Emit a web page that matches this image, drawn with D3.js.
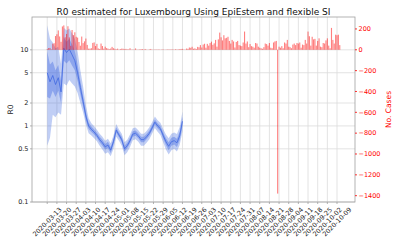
<!DOCTYPE html>
<html>
<head>
<meta charset="utf-8">
<script src="https://cdn.jsdelivr.net/npm/d3@7"></script>
<style>
  body { margin: 0; background: #fff; }
  svg { display: block; font-family: "DejaVu Sans", sans-serif; }
</style>
</head>
<body>
<svg id="chart"></svg>
<script>
// daily new cases, one value per day from casesStart
const casesStart = "2020-03-13";
const dailyCases = [
    8, 17, 18, 4, 59, 63, 132, 149, 186, 128, 77, 224, 234, 120, 152, 226, 119, 38, 190,
    141, 168, 125, 117, 75, 39, 127, 64, 81, 108, 47, 11, 11, 15, 66, 71, 36, 57, 13, 8, 60, 36, 11, 30, 16, 12, 6, 12, 28, 15,
    10, 5, 11, 2, 7, 11, 10, 6, 9, 5, 4, 15, 2, 3, 3, 13, 2, 2, 4, 6, 7, 3, 8, 2, 1, 4, 8, 2, 2, 3, 3,
    2, 4, 1, 3, 5, 1, 2, 4, 3, 4, 3, 5, 2, 6, 3, 4, 6, 8, 9, 3, 2, 12, 9, 22, 19, 29, 10, 14, 8, 28,
    24, 45, 22, 50, 58, 20, 57, 40, 65, 78, 48, 62, 95, 30, 100, 165, 120, 90, 140, 110, 115, 125, 85, 60, 95, 80, 22, 75, 85, 45, 40,
    35, 70, 175, 60, 80, 25, 55, 35, 30, 20, 65, 60, 30, 20, 15, 10, 25, 60, 55, 40, 65, 20, 15, 70, 80, 85, -1380, 30, 20, 35, 15,
    70, 60, 95, 30, 25, 15, 50, 60, 45, 65, 60, 70, 20, 50, 45, 95, 60, 175, 130, 40, 125, 100, 105, 40, 85, 110, 30, 25, 65, 60,
    90, 110, 40, 15, 210, 95, 60, 145, 140, 145, 45
];

// R0 estimates, one value every r0Step days from r0Start
const r0Start = "2020-03-13";
const r0Step = 2;
const r0Median = [5.0, 3.8, 4.6, 3.5, 4.3, 2.8, 10.5, 9.2, 10.2, 8.6, 7.2, 5.0, 3.2, 2.1, 1.35, 1.0, 0.9, 0.83, 0.75, 0.66,
    0.6, 0.53, 0.56, 0.48, 0.62, 0.88, 0.76, 0.66, 0.5, 0.55, 0.64, 0.78, 0.8, 0.74, 0.66, 0.66, 0.72, 0.8, 0.94, 1.12,
    1.0, 0.92, 0.75, 0.62, 0.54, 0.62, 0.64, 0.6, 0.74, 1.15];
const r0Lo50 = [2.4, 2.3, 2.9, 2.4, 2.9, 2.0, 7.2, 6.6, 7.3, 6.2, 5.4, 3.9, 2.6, 1.8, 1.2, 0.91, 0.83, 0.77, 0.7, 0.61,
    0.55, 0.49, 0.51, 0.44, 0.57, 0.81, 0.71, 0.61, 0.46, 0.51, 0.59, 0.72, 0.74, 0.69, 0.61, 0.61, 0.67, 0.74, 0.87, 1.04,
    0.93, 0.85, 0.69, 0.56, 0.48, 0.55, 0.57, 0.53, 0.65, 1.0];
const r0Hi50 = [9.5, 6.4, 7.0, 5.4, 6.3, 3.9, 14.5, 12.8, 14.0, 11.8, 9.6, 6.4, 3.9, 2.5, 1.52, 1.1, 0.98, 0.9, 0.81, 0.72,
    0.66, 0.58, 0.62, 0.53, 0.68, 0.96, 0.82, 0.72, 0.55, 0.6, 0.7, 0.85, 0.87, 0.8, 0.72, 0.72, 0.78, 0.87, 1.02, 1.21,
    1.08, 1.0, 0.82, 0.69, 0.61, 0.7, 0.72, 0.68, 0.84, 1.32];
const r0Lo95 = [0.55, 0.7, 1.4, 1.3, 1.5, 1.4, 3.6, 3.4, 4.0, 3.6, 3.3, 2.7, 2.0, 1.5, 1.05, 0.8, 0.75, 0.69, 0.63, 0.55,
    0.49, 0.43, 0.45, 0.4, 0.5, 0.72, 0.64, 0.55, 0.41, 0.45, 0.53, 0.65, 0.67, 0.62, 0.55, 0.55, 0.6, 0.67, 0.79, 0.94,
    0.84, 0.76, 0.61, 0.49, 0.42, 0.48, 0.5, 0.46, 0.56, 0.85];
const r0Hi95 = [21, 14, 12.5, 10.5, 11, 6.5, 19.5, 18, 19, 16.5, 14, 9.5, 5.4, 3.3, 1.85, 1.26, 1.08, 0.99, 0.89, 0.79,
    0.72, 0.64, 0.68, 0.59, 0.75, 1.06, 0.9, 0.79, 0.61, 0.66, 0.77, 0.93, 0.95, 0.88, 0.79, 0.79, 0.86, 0.96, 1.12, 1.33,
    1.19, 1.1, 0.91, 0.77, 0.69, 0.79, 0.82, 0.78, 0.97, 1.55];

const xTickLabels = [
    "2020-03-13", "2020-03-20", "2020-03-27", "2020-04-03", "2020-04-10", "2020-04-17", "2020-04-24",
    "2020-05-01", "2020-05-08", "2020-05-15", "2020-05-22", "2020-05-29", "2020-06-05", "2020-06-12",
    "2020-06-19", "2020-06-26", "2020-07-03", "2020-07-10", "2020-07-17", "2020-07-24", "2020-07-31",
    "2020-08-07", "2020-08-14", "2020-08-21", "2020-08-28", "2020-09-04", "2020-09-11", "2020-09-18",
    "2020-09-25", "2020-10-02", "2020-10-09"
];
const r0Ticks = [0.1, 0.5, 1, 2, 5, 10];
const r0TickLabels = ["0.1", "0.5", "1", "2", "5", "10"];
const caseTicks = [200, 0, -200, -400, -600, -800, -1000, -1200, -1400];

/** ---------------------------------------------------------------- */

const width = 400, height = 250;
const plot = {left: 32, right: 355, top: 17, bottom: 202};
const parseDate = d3.timeParse("%Y-%m-%d");
const tickFont = 6.5;

const svg = d3.select("#chart")
    .attr("width", width)
    .attr("height", height);

const caseData = dailyCases.map((v, i) => ({date: d3.timeDay.offset(parseDate(casesStart), i), value: v}));
const r0Data = r0Median.map((m, i) => ({
    date: d3.timeDay.offset(parseDate(r0Start), i * r0Step),
    med: m, lo50: r0Lo50[i], hi50: r0Hi50[i], lo95: r0Lo95[i], hi95: r0Hi95[i]
}));

// x domain padded 5% like matplotlib
const halfBar = 0.4 * 864e5;
const xMin = +caseData[0].date - halfBar;
const xMax = +caseData[caseData.length - 1].date + halfBar;
const xPad = (xMax - xMin) * 0.05;
const x = d3.scaleTime()
    .domain([new Date(xMin - xPad), new Date(xMax + xPad)])
    .range([plot.left, plot.right]);

const yR0 = d3.scaleLog()
    .domain([0.1, 27])
    .range([plot.bottom, plot.top]);

const [cMin, cMax] = d3.extent(dailyCases);
const cPad = (cMax - cMin) * 0.05;
const yCases = d3.scaleLinear()
    .domain([cMin - cPad, cMax + cPad])
    .range([plot.bottom, plot.top]);

// grid
const grid = svg.append("g").attr("stroke", "#dcdcdc").attr("stroke-width", 0.8);
xTickLabels.forEach(t => {
    const px = x(parseDate(t));
    grid.append("line").attr("x1", px).attr("x2", px).attr("y1", plot.top).attr("y2", plot.bottom);
});
r0Ticks.forEach(t => {
    const py = yR0(t);
    grid.append("line").attr("x1", plot.left).attr("x2", plot.right).attr("y1", py).attr("y2", py);
});

// R0 bands and median
const band95 = d3.area()
    .x(d => x(d.date))
    .y0(d => yR0(d.lo95))
    .y1(d => yR0(d.hi95));
const band50 = d3.area()
    .x(d => x(d.date))
    .y0(d => yR0(d.lo50))
    .y1(d => yR0(d.hi50));
const medLine = d3.line()
    .x(d => x(d.date))
    .y(d => yR0(d.med));

svg.append("path").attr("d", band95(r0Data)).attr("fill", "royalblue").attr("fill-opacity", 0.33);
svg.append("path").attr("d", band50(r0Data)).attr("fill", "royalblue").attr("fill-opacity", 0.4);
svg.append("path").attr("d", medLine(r0Data))
    .attr("fill", "none").attr("stroke", "royalblue").attr("stroke-width", 1).attr("stroke-opacity", 0.8);

// case bars (twin axis, drawn on top)
svg.append("g").selectAll("rect")
    .data(caseData)
    .join("rect")
    .attr("x", d => x(+d.date - halfBar))
    .attr("width", d => x(+d.date + halfBar) - x(+d.date - halfBar))
    .attr("y", d => yCases(Math.max(0, d.value)))
    .attr("height", d => Math.abs(yCases(d.value) - yCases(0)))
    .attr("fill", "red")
    .attr("fill-opacity", 0.5);

// frame
svg.append("rect")
    .attr("x", plot.left).attr("y", plot.top)
    .attr("width", plot.right - plot.left).attr("height", plot.bottom - plot.top)
    .attr("fill", "none").attr("stroke", "#a0a0a0").attr("stroke-width", 0.8);

// left axis ticks
const left = svg.append("g").attr("font-size", tickFont).attr("fill", "#222");
r0Ticks.forEach((t, i) => {
    const py = yR0(t);
    left.append("line").attr("x1", plot.left - 2).attr("x2", plot.left).attr("y1", py).attr("y2", py)
        .attr("stroke", "#a0a0a0").attr("stroke-width", 0.8);
    left.append("text").attr("x", plot.left - 3.5).attr("y", py).attr("dy", "0.35em")
        .attr("text-anchor", "end").text(r0TickLabels[i]);
});

// right axis ticks
const right = svg.append("g").attr("font-size", tickFont).attr("fill", "red");
caseTicks.forEach(t => {
    const py = yCases(t);
    right.append("line").attr("x1", plot.right).attr("x2", plot.right + 2).attr("y1", py).attr("y2", py)
        .attr("stroke", "red").attr("stroke-width", 0.8);
    right.append("text").attr("x", plot.right + 3.5).attr("y", py).attr("dy", "0.35em")
        .text(d3.format("")(t));
});

// bottom axis ticks, rotated 45 and centered under the tick
const bottom = svg.append("g").attr("font-size", tickFont).attr("fill", "#222");
const labelTop = plot.bottom + 4;
xTickLabels.forEach(t => {
    const px = x(parseDate(t));
    bottom.append("line").attr("x1", px).attr("x2", px).attr("y1", plot.bottom).attr("y2", plot.bottom + 2)
        .attr("stroke", "#a0a0a0").attr("stroke-width", 0.8);
    const g = bottom.append("g");
    const txt = g.append("text").attr("text-anchor", "middle").attr("dy", "0.35em")
        .attr("transform", "rotate(-45)").text(t);
    const len = txt.node().getComputedTextLength();
    const half = (len + tickFont * 1.1) / (2 * Math.SQRT2);
    g.attr("transform", `translate(${px},${labelTop + half})`);
});

// labels
svg.append("text")
    .attr("x", (plot.left + plot.right) / 2).attr("y", 14.5)
    .attr("text-anchor", "middle").attr("font-size", 9).attr("fill", "#111")
    .text("R0 estimated for Luxembourg Using EpiEstem and flexible SI");

svg.append("text")
    .attr("transform", `translate(13,${(plot.top + plot.bottom) / 2}) rotate(-90)`)
    .attr("text-anchor", "middle").attr("font-size", 7.5).attr("fill", "#222")
    .text("R0");

svg.append("text")
    .attr("transform", `translate(391,${(plot.top + plot.bottom) / 2}) rotate(-90)`)
    .attr("text-anchor", "middle").attr("font-size", 7.5).attr("fill", "red")
    .text("No. Cases");
</script>
</body>
</html>
